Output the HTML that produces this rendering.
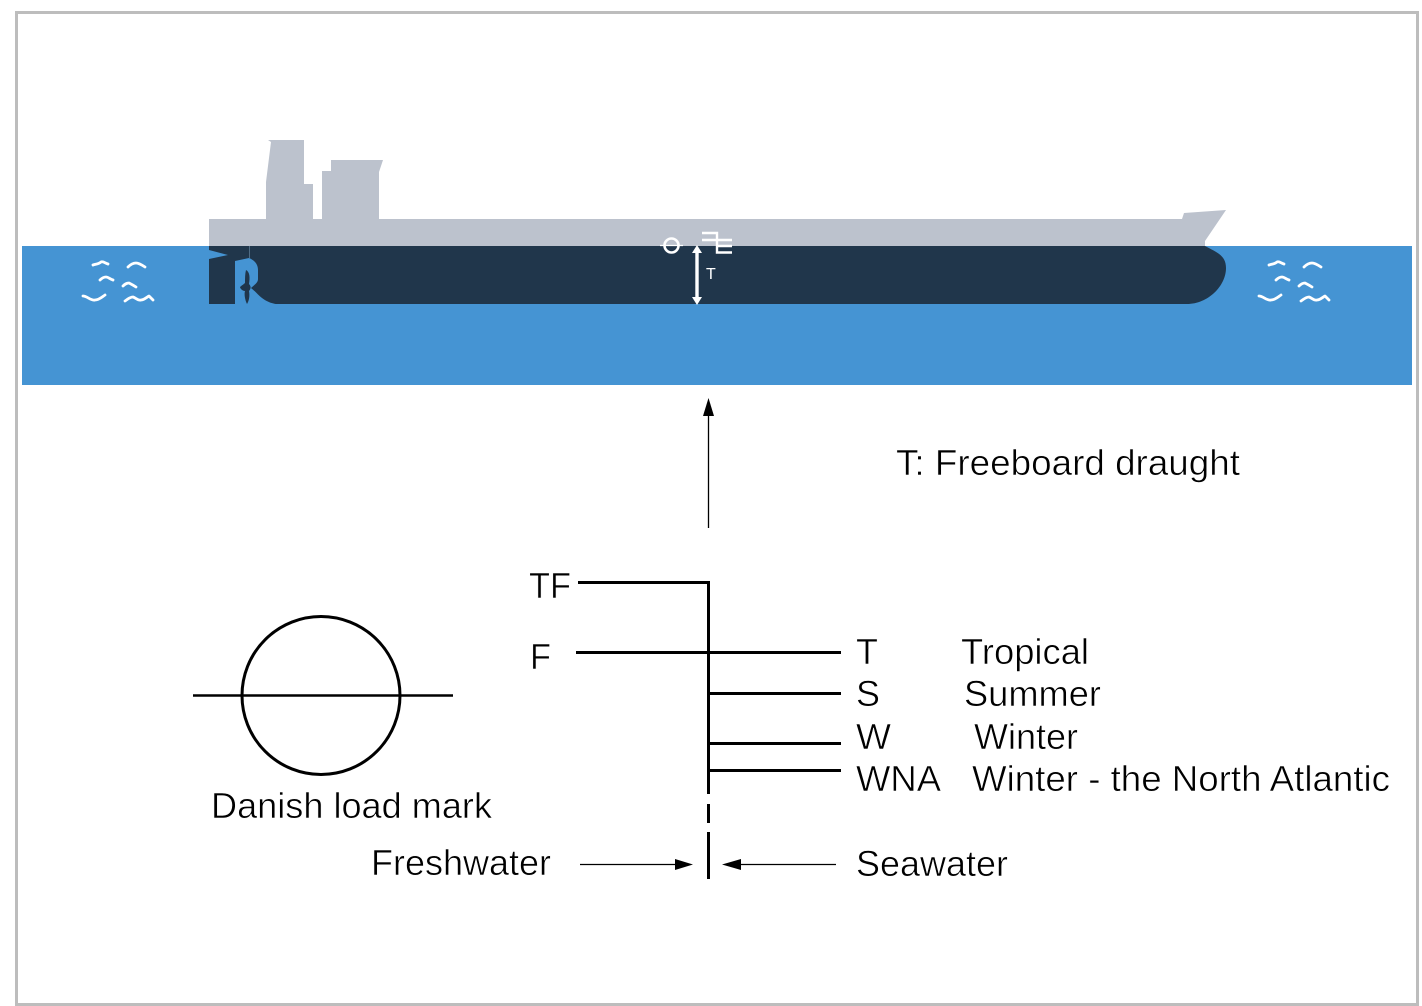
<!DOCTYPE html>
<html><head><meta charset="utf-8"><style>html,body{margin:0;padding:0;background:#fff}svg{display:block}text{font-family:"Liberation Sans",sans-serif}.b{fill:#000;stroke:#fff;stroke-width:.55px}</style></head>
<body>
<svg width="1422" height="1006" viewBox="0 0 1422 1006" xmlns="http://www.w3.org/2000/svg">
<rect x="16.5" y="12.5" width="1401" height="992" fill="#fff" stroke="#bdbdbd" stroke-width="3"/>
<rect x="22" y="246" width="1390" height="139" fill="#4594d3"/>
<!-- Superstructure -->
<path d="M209 246V219H266V182L271 142L268 140H304V184H313V219H322V171H331V160H383L379 172V219H1182L1184 213L1226 210L1205 241V246Z" fill="#bcc2cd"/>
<!-- Hull -->
<path d="M209 246H1205C1216 252 1226 255 1226 268C1226 286 1208 304 1187 304H209Z" fill="#20364b"/>
<!-- Stern cut-outs -->
<path d="M209 250L228 255L209 259Z" fill="#4594d3"/>
<path d="M235 261L249 258C254 260 258 264 258 270V279C258 283 254 285 251 288C255 291 258 295 262 298C267 302 273 304 280 304.500H235Z" fill="#4594d3"/>
<path d="M249.500 246V258" stroke="#5d7a94" stroke-width=".8"/>
<!-- Propeller -->
<path d="M246 270C250 272 250 278 249 284C252 287 250 290 249 291C250 296 249 301 247 304C245 300 244 294 245 291C242 291 240 288 240 287C241 286 244 284 245 283C245 278 245 274 246 270Z" fill="#20364b"/>
<!-- Mark -->
<circle cx="671.500" cy="245.500" r="7" fill="none" stroke="#fff" stroke-width="2.600"/>
<path d="M660 245.500H683" stroke="#fff" stroke-width="1.200"/>
<path d="M702 233H717V252.500H732M702 240H732M717 246H732" fill="none" stroke="#fff" stroke-width="2.400"/>
<path d="M697 251V298" stroke="#fff" stroke-width="3.400"/>
<path d="M697 245L692 253H702ZM697 305L692 297H702Z" fill="#fff"/>
<text x="706" y="279" font-size="16" fill="#fff">T</text>
<!-- Waves -->
<g fill="none" stroke="#fff" stroke-width="2.800" stroke-linecap="round" stroke-linejoin="round">
<path d="M93 265C96 264 99 264 101 262C103 261 105 263 108 264"/>
<path d="M128 267C131 264 133 263 136 263C139 263 142 265 145 267"/>
<path d="M100 280C102 278 104 277 106 277C108 277 110 279 113 280"/>
<path d="M123 286C125 284 127 283 129 283C131 284 133 285 136 287"/>
<path d="M83 296C87 296 91 301 95 300C99 300 102 297 105 295"/>
<path d="M125 301C128 299 130 297 133 297C136 298 138 301 141 300C144 300 147 297 149 296L153 300"/>
<path d="M1269 265C1272 264 1275 264 1277 262C1279 261 1281 263 1284 264"/>
<path d="M1304 267C1307 264 1309 263 1312 263C1315 263 1318 265 1321 267"/>
<path d="M1276 280C1278 278 1280 277 1282 277C1284 277 1286 279 1289 280"/>
<path d="M1299 286C1301 284 1303 283 1305 283C1307 284 1309 285 1312 287"/>
<path d="M1259 296C1263 296 1267 301 1271 300C1275 300 1278 297 1281 295"/>
<path d="M1301 301C1304 299 1306 297 1309 297C1312 298 1314 301 1317 300C1320 300 1323 297 1325 296L1329 300"/>
</g>
<!-- Up arrow -->
<path d="M708.500 415V528" stroke="#000" stroke-width="1.300"/>
<path d="M708.500 398L703 416H714Z" fill="#000"/>
<text class="b" x="896" y="475" font-size="36" textLength="344" lengthAdjust="spacingAndGlyphs">T: Freeboard draught</text>
<!-- Load line -->
<g fill="none" stroke="#000" stroke-width="3">
<path d="M578 582.500H709M708.500 581V794"/>
<path d="M576 652.500H841M708 693.500H841M708 743.500H841M708 770.500H841"/>
<path d="M708.500 804V823M708.500 832V879"/>
<circle cx="321" cy="695.500" r="79"/>
</g>
<path d="M193 695.500H453" stroke="#000" stroke-width="2.500"/>
<path d="M580 864.500H680M735 864.500H836" stroke="#000" stroke-width="1.300"/>
<path d="M693 864.500L675 859V870ZM722 864.500L741 859V870Z" fill="#000"/>
<text class="b" x="529" y="598" font-size="36" textLength="42" lengthAdjust="spacingAndGlyphs">TF</text>
<text class="b" x="530" y="669" font-size="36" textLength="21" lengthAdjust="spacingAndGlyphs">F</text>
<text class="b" x="856" y="664" font-size="36" textLength="22" lengthAdjust="spacingAndGlyphs">T</text>
<text class="b" x="961" y="664" font-size="36" textLength="128" lengthAdjust="spacingAndGlyphs">Tropical</text>
<text class="b" x="856" y="706" font-size="36" textLength="24" lengthAdjust="spacingAndGlyphs">S</text>
<text class="b" x="964" y="706" font-size="36" textLength="137" lengthAdjust="spacingAndGlyphs">Summer</text>
<text class="b" x="856" y="749" font-size="36" textLength="35" lengthAdjust="spacingAndGlyphs">W</text>
<text class="b" x="974" y="749" font-size="36" textLength="104" lengthAdjust="spacingAndGlyphs">Winter</text>
<text class="b" x="856" y="791" font-size="36" textLength="85" lengthAdjust="spacingAndGlyphs">WNA</text>
<text class="b" x="972" y="791" font-size="36" textLength="418" lengthAdjust="spacingAndGlyphs">Winter - the North Atlantic</text>
<text class="b" x="211" y="818" font-size="36" textLength="281" lengthAdjust="spacingAndGlyphs">Danish load mark</text>
<text class="b" x="371" y="875" font-size="36" textLength="180" lengthAdjust="spacingAndGlyphs">Freshwater</text>
<text class="b" x="856" y="876" font-size="36" textLength="152" lengthAdjust="spacingAndGlyphs">Seawater</text>
</svg>
</body></html>
